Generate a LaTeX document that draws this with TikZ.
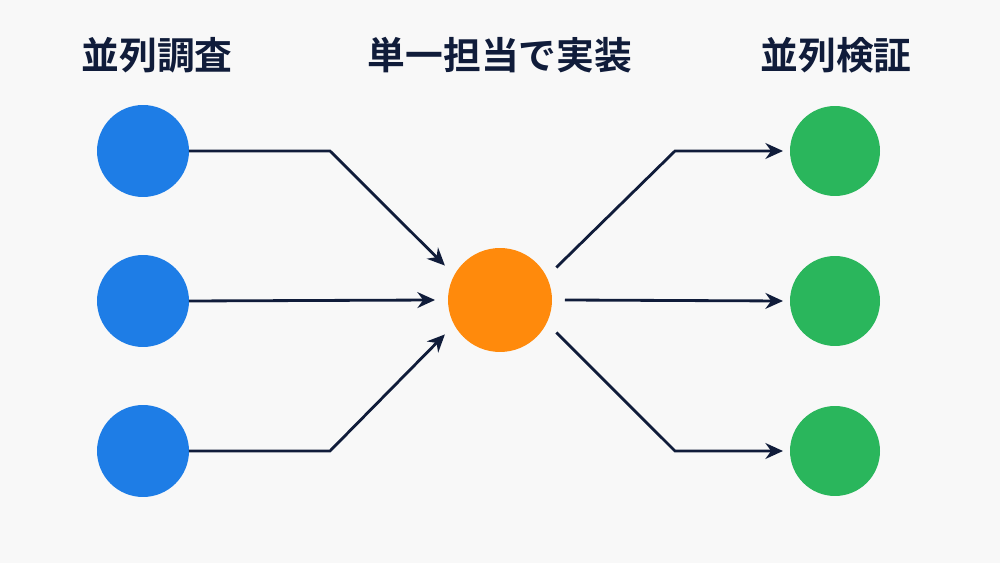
\documentclass[tikz,border=0pt]{standalone}
\usepackage{fontspec}
\newfontfamily\jp{Noto Sans CJK JP}[BoldFont={Noto Sans CJK JP Bold}]
\usetikzlibrary{positioning,arrows.meta}
\definecolor{navy}{RGB}{16,28,58}
\definecolor{bgray}{RGB}{248,248,248}
\definecolor{sblue}{RGB}{30,125,230}
\definecolor{sorange}{RGB}{255,138,12}
\definecolor{sgreen}{RGB}{42,182,92}
\tikzset{
  title/.style={font=\jp\bfseries\fontsize{21.5}{26}\selectfont, text=navy},
  probe/.style={circle, fill=sblue, minimum size=1.84cm, inner sep=0pt, outer sep=0pt},
  impl/.style={circle, fill=sorange, minimum size=2.08cm, inner sep=0pt, outer sep=0.26cm},
  check/.style={circle, fill=sgreen, minimum size=1.8cm, inner sep=0pt, outer sep=0.14cm},
  link/.style={draw=navy, line width=1.6pt, -{Stealth[length=10pt,width=9pt]}}
}

\begin{document}
\begin{tikzpicture}[x=0.02cm, y=-0.02cm]
        % fundo
        \fill[bgray] (0,0) rectangle (1000,563);
        \useasboundingbox (0,0) rectangle (1000,563);

        % titulos
        \node[title] (t1) at (157,55) {並列調査};
        \node[title] (t2) at (500,55) {単一担当で実装};
        \node[title] (t3) at (836,55) {並列検証};

        % nos
        \node[probe] (p1) at (143,151) {};
        \node[probe] (p2) at (143,301) {};
        \node[probe] (p3) at (143,451) {};
        \node[impl] (core) at (500,300) {};
        \node[check] (v1) at (835,151) {};
        \node[check] (v2) at (835,301) {};
        \node[check] (v3) at (835,451) {};

        % entradas
        \draw[link] (p1.east) -- (330,151) -- (core.148);
        \draw[link] (p2.east) -- (core.west);
        \draw[link] (p3.east) -- (330,451) -- (core.212);

        % saidas
        \draw[link] (core.30) -- (675,151) -- (v1.west);
        \draw[link] (core.east) -- (v2.west);
        \draw[link] (core.330) -- (675,451) -- (v3.west);
    \end{tikzpicture}
\end{document}
